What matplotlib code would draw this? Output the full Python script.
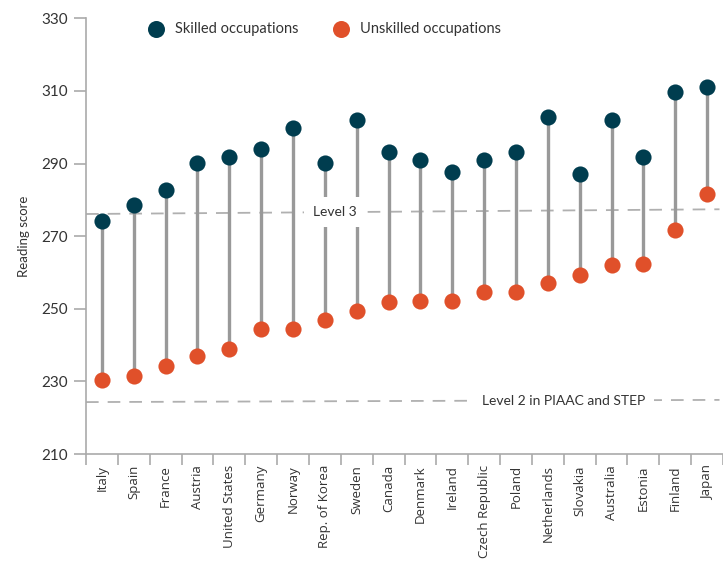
import matplotlib.pyplot as plt

# 국가별 직업군 읽기 점수
countries = ['Italy', 'Spain', 'France', 'Austria', 'United States', 'Germany', 'Norway',
             'Rep. of Korea', 'Sweden', 'Canada', 'Denmark', 'Ireland', 'Czech Republic',
             'Poland', 'Netherlands', 'Slovakia', 'Australia', 'Estonia', 'Finland', 'Japan']
skilled = [274.3, 278.6, 282.8, 290.2, 291.8, 293.9, 299.9, 290.2, 302.0, 293.1,
           290.9, 287.8, 290.9, 293.1, 302.9, 287.2, 302.0, 291.9, 309.8, 311.2]
unskilled = [230.5, 231.6, 234.3, 236.9, 239.0, 244.3, 244.3, 247.0, 249.5, 251.9,
             252.1, 252.1, 254.6, 254.6, 257.1, 259.3, 262.0, 262.4, 271.6, 281.5]
yticks = [210, 230, 250, 270, 290, 310, 330]

# 기준선 (양 끝 값)
level3 = [276.1, 277.4]
level2 = [224.3, 224.9]

DARK = '#003d4f'
ORANGE = '#e0502a'
GRAY = '#999999'
TEXT = '#333333'

fig = plt.figure(figsize=(7.23, 5.61), dpi=100)
ax = fig.add_axes([86 / 723, 107 / 561, 637 / 723, 435.7 / 561])

x = list(range(len(countries)))
xmin, xmax = -0.5, 19.39
ax.set_xlim(xmin, xmax)
ax.set_ylim(210, 330)

# 점선 기준선
dash = dict(color='#b0b0b0', lw=1.3, dashes=(7, 5), zorder=1)
ax.plot([xmin, xmax], level3, **dash)
ax.plot([xmin, xmax], level2, **dash)

# 막대(스템)와 점
ax.vlines(x, unskilled, skilled, color=GRAY, lw=2.4, zorder=2)
ax.scatter(x, skilled, s=135, color=DARK, zorder=3, linewidths=0)
ax.scatter(x, unskilled, s=135, color=ORANGE, zorder=3, linewidths=0)

# 기준선 라벨 (흰 배경으로 선을 가림)
ax.text(7.3, 276.6, 'Level 3', fontsize=10, family='Lato', color=TEXT,
        ha='center', va='center', zorder=4,
        bbox=dict(facecolor='white', edgecolor='none', pad=6.5))
ax.text(14.5, 224.6, 'Level 2 in PIAAC and STEP', fontsize=10, family='Lato',
        color=TEXT, ha='center', va='center', zorder=4,
        bbox=dict(facecolor='white', edgecolor='none', pad=6))

# 축 스타일
for side in ['top', 'right']:
    ax.spines[side].set_visible(False)
for side in ['left', 'bottom']:
    ax.spines[side].set_color('#aaaaaa')
    ax.spines[side].set_linewidth(1.2)

ax.set_yticks(yticks)
ax.tick_params(axis='y', length=9, width=1.2, color='#aaaaaa', labelsize=11,
               labelcolor=TEXT, pad=4)
for lbl in ax.get_yticklabels():
    lbl.set_family('Lato')

# x축: 경계에 눈금, 가운데에 국가명
ax.set_xticks([i - 0.5 for i in range(len(countries) + 1)])
ax.set_xticklabels([])
ax.set_xticks(x, minor=True)
ax.set_xticklabels(countries, minor=True, rotation=90, fontsize=9.5,
                   family='Open Sans', color=TEXT)
ax.tick_params(axis='x', which='major', length=8, width=1.2, color='#aaaaaa')
ax.tick_params(axis='x', which='minor', length=0, pad=8)

ax.set_ylabel('Reading score', fontsize=9.5, family='Lato', color=TEXT, labelpad=8)

# 범례 (축 좌표에 직접 배치)
legend_items = [('Skilled occupations', DARK, 0.110, 0.140),
                ('Unskilled occupations', ORANGE, 0.401, 0.430)]
for label, color, dot_x, text_x in legend_items:
    ax.scatter([dot_x], [0.976], s=150, color=color, linewidths=0,
               transform=ax.transAxes, clip_on=False, zorder=5)
    ax.text(text_x, 0.976, label, fontsize=10.5, family='Lato', color=TEXT,
            ha='left', va='center', transform=ax.transAxes)

fig.savefig('out.png', dpi=100)
